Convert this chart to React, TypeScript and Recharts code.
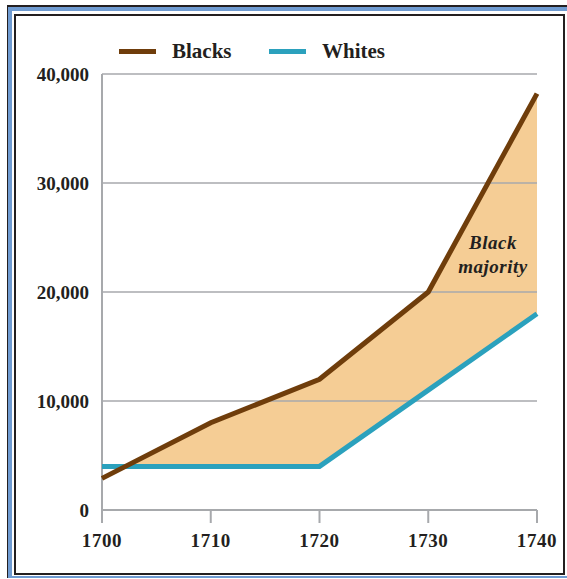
import React from "react";
import {
  Area,
  CartesianGrid,
  ComposedChart,
  Line,
  XAxis,
  YAxis,
} from "recharts";

// Colonial South Carolina population
const years = [1700, 1710, 1720, 1730, 1740];
const blacks = [2900, 8000, 12000, 20000, 38200];
const whites = [4000, 4000, 4000, 11000, 18000];
const yTicks = [0, 10000, 20000, 30000, 40000];

const data = years.map((year, i) => ({
  year,
  blacks: blacks[i],
  whites: whites[i],
}));

const BROWN = "#6f3d0b";
const TEAL = "#2ba1bd";
const FILL = "#f5cd95";
const GRID = "#a7a9ac";
const INK = "#231f20";
const FONT = "'Liberation Serif', 'Times New Roman', serif";

function LegendItem({ color, label, x }: { color: string; label: string; x: number }) {
  return (
    <div style={{ position: "absolute", left: x, top: 38, display: "flex", alignItems: "center" }}>
      <div style={{ width: 37, height: 5, background: color }} />
      <span
        style={{
          marginLeft: 16,
          fontFamily: FONT,
          fontWeight: 700,
          fontSize: 21,
          color: INK,
          lineHeight: "26px",
        }}
      >
        {label}
      </span>
    </div>
  );
}

export default function App() {
  const yTickStyle = { fontFamily: FONT, fontWeight: 700, fontSize: 19, fill: INK };
  const xTickStyle = { ...yTickStyle, letterSpacing: 0.6 };
  return (
    <div style={{ position: "absolute", left: 0, top: 0, width: 567, height: 579, overflow: "hidden", background: "#fff" }}>
      {/* outer blue frame */}
      <div
        style={{
          position: "absolute",
          left: 7,
          top: 5,
          width: 580,
          height: 573,
          boxSizing: "border-box",
          borderLeft: "1px solid #231f20",
          borderTop: "2px solid #231f20",
          background: "#6f9bd1",
        }}
      />
      <div style={{ position: "absolute", left: 12, top: 11, width: 560, height: 565, background: "#fff" }} />
      {/* inner black frame */}
      <div
        style={{
          position: "absolute",
          left: 14,
          top: 14,
          width: 551,
          height: 561,
          boxSizing: "border-box",
          border: `2px solid ${INK}`,
        }}
      />

      <LegendItem color={BROWN} label="Blacks" x={119} />
      <LegendItem color={TEAL} label="Whites" x={269} />

      <div style={{ position: "absolute", left: 0, top: 0 }}>
        <ComposedChart
          width={567}
          height={579}
          data={data}
          margin={{ top: 74, right: 30, bottom: 29, left: 15 }}
        >
          <Area
            type="linear"
            dataKey="blacks"
            stroke="none"
            fill={FILL}
            fillOpacity={1}
            isAnimationActive={false}
          />
          <Area
            type="linear"
            dataKey="whites"
            stroke="none"
            fill="#ffffff"
            fillOpacity={1}
            isAnimationActive={false}
          />
          <CartesianGrid
            vertical={false}
            stroke={GRID}
            strokeWidth={1.5}
            zIndex={200}
          />
          <XAxis
            dataKey="year"
            type="number"
            domain={[1700, 1740]}
            ticks={years}
            height={40}
            axisLine={{ stroke: GRID, strokeWidth: 2 }}
            tickLine={{ stroke: GRID, strokeWidth: 2 }}
            tickSize={13}
            tickMargin={11}
            tick={xTickStyle}
            zIndex={250}
          />
          <YAxis
            type="number"
            domain={[0, 40000]}
            ticks={yTicks}
            width={87}
            axisLine={{ stroke: GRID, strokeWidth: 2 }}
            tickLine={false}
            tickMargin={7}
            tick={yTickStyle}
            tickFormatter={(v: number) => v.toLocaleString("en-US")}
            zIndex={250}
          />
          <Line
            type="linear"
            dataKey="whites"
            stroke={TEAL}
            strokeWidth={5}
            dot={false}
            isAnimationActive={false}
          />
          <Line
            type="linear"
            dataKey="blacks"
            stroke={BROWN}
            strokeWidth={5}
            dot={false}
            isAnimationActive={false}
          />
        </ComposedChart>
      </div>

      <div
        style={{
          position: "absolute",
          left: 443,
          top: 231,
          width: 100,
          textAlign: "center",
          fontFamily: FONT,
          fontStyle: "italic",
          fontWeight: 700,
          fontSize: 19,
          lineHeight: "24px",
          color: INK,
          letterSpacing: 0.5,
        }}
      >
        Black
        <br />
        majority
      </div>
    </div>
  );
}
